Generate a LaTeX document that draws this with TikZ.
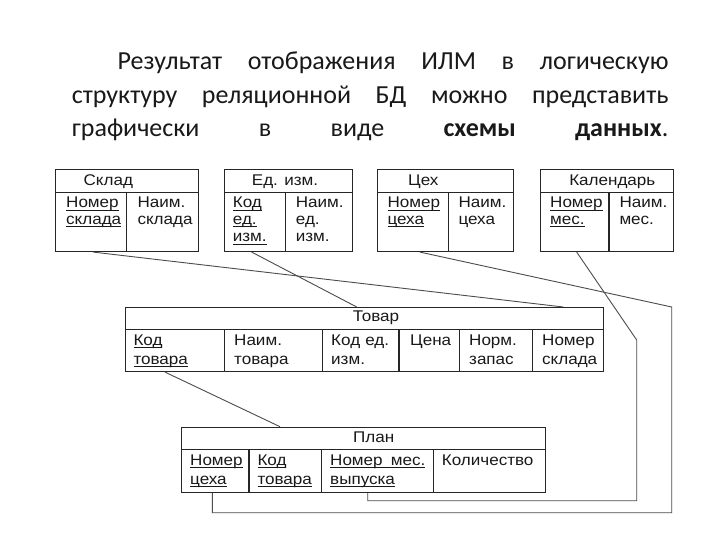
\documentclass[tikz,border=0pt]{standalone}
\usepackage{fontspec}
\usepackage{tikz}
\usetikzlibrary{calc}
\newfontfamily\titlefont{Carlito}
\newfontfamily\tabfont[FakeStretch=1.1]{Liberation Sans}
\newcommand{\pk}[1]{\leavevmode\setbox0=\hbox{#1}\rlap{\rule[-2.6pt]{\wd0}{0.8pt}}\box0}

\tikzset{
  tbl/.style={draw=black!85, line width=1.1pt, anchor=north west, inner sep=0pt},
  rowline/.style={draw=black!85, line width=1.1pt},
  link/.style={draw=black!70, line width=0.9pt},
  hdr/.style={anchor=base, inner sep=0pt, text=black!90, font=\tabfont\fontsize{15.5}{17}\selectfont},
  fld/.style={anchor=base west, inner sep=0pt, text width=110pt, align=left, text=black!90, font=\tabfont\fontsize{15.5}{17}\selectfont},
  fldlow/.style={fld, font=\tabfont\fontsize{15.5}{19.3}\selectfont}
}

\begin{document}
\begin{tikzpicture}[x=1pt, y=-1pt]
    \fill[white] (0,0) rectangle (720,540);
    \useasboundingbox (0,0) rectangle (720,540);

    % heading text
    \node[anchor=base west, inner sep=0pt, text=black!90,
      font=\titlefont\fontsize{26}{33.7}\selectfont] (title) at (71.7,69.5)
      {\parbox[t]{596.6pt}{\parfillskip=0pt\hspace*{45.6pt}Результат отображения ИЛМ в логическую\linebreak
       структуру реляционной БД можно представить\linebreak
       графически в виде \textbf{схемы данных}.}};

    % upper tables
    \node[tbl, minimum width=142.7pt, minimum height=81.7pt] (sklad) at (55,169.3) {};
    \draw[rowline] (55,192.3) -- (197.7,192.3);
    \draw[rowline] (126.7,192.3) -- (126.7,251);
    \node[hdr] (skladH) at (108.3,186) {Склад};
    \node[fld] (skladK) at (66,207.7) {\pk{Номер}\\\pk{склада}};
    \node[fld] (skladN) at (137.3,207.7) {Наим.\\склада};

    \node[tbl, minimum width=127.4pt, minimum height=81.7pt] (edizm) at (224.3,169.3) {};
    \draw[rowline] (224.3,192.3) -- (351.7,192.3);
    \draw[rowline] (285.7,192.3) -- (285.7,251);
    \node[hdr] (edizmH) at (285,186) {Ед. изм.};
    \node[fld] (edizmK) at (232.7,207.7) {\pk{Код}\\\pk{ед.}\\\pk{изм.}};
    \node[fld] (edizmN) at (295.7,207.7) {Наим.\\ед.\\изм.};

    \node[tbl, minimum width=135.4pt, minimum height=81.7pt] (tseh) at (377.3,169.3) {};
    \draw[rowline] (377.3,192.3) -- (512.7,192.3);
    \draw[rowline] (448.7,192.3) -- (448.7,251);
    \node[hdr] (tsehH) at (423.3,186) {Цех};
    \node[fld] (tsehK) at (387.3,207.7) {\pk{Номер}\\\pk{цеха}};
    \node[fld] (tsehN) at (458.3,207.7) {Наим.\\цеха};

    \node[tbl, minimum width=132.7pt, minimum height=81.7pt] (kalendar) at (540,169.3) {};
    \draw[rowline] (540,192.3) -- (672.7,192.3);
    \draw[rowline] (609,192.3) -- (609,251);
    \node[hdr] (kalendarH) at (612.3,186) {Календарь};
    \node[fld] (kalendarK) at (550,207.7) {\pk{Номер}\\\pk{мес.}};
    \node[fld] (kalendarN) at (619.3,207.7) {Наим.\\мес.};

    % Товар
    \node[tbl, minimum width=478.3pt, minimum height=64pt] (tovar) at (125,307) {};
    \draw[rowline] (125,329.3) -- (603.3,329.3);
    \foreach \x in {224.3,322.3,399,459.3,532.3}
      \draw[rowline] (\x,329.3) -- (\x,371);
    \node[hdr] (tovarH) at (376,321.7) {Товар};
    \node[fldlow] (tovarK) at (133.3,345) {\pk{Код}\\\pk{товара}};
    \node[fldlow] (tovarN) at (234,345) {Наим.\\товара};
    \node[fldlow] (tovarE) at (331,345) {Код ед.\\изм.};
    \node[fldlow] (tovarC) at (410,345) {Цена};
    \node[fldlow] (tovarZ) at (469,345) {Норм.\\запас};
    \node[fldlow] (tovarS) at (542,345) {Номер\\склада};

    % План
    \node[tbl, minimum width=364pt, minimum height=65pt] (plan) at (181,426.7) {};
    \draw[rowline] (181,449.3) -- (545,449.3);
    \foreach \x in {249,321.7,433.3}
      \draw[rowline] (\x,449.3) -- (\x,491.7);
    \node[hdr] (planH) at (373.7,442.3) {План};
    \node[fldlow] (planT) at (190,465) {\pk{Номер}\\\pk{цеха}};
    \node[fldlow] (planK) at (257.3,465) {\pk{Код}\\\pk{товара}};
    \node[fldlow] (planM) at (330,465) {\pk{Номер\hspace{3pt} мес.}\\\pk{выпуска}};
    \node[fldlow] (planQ) at (441.7,465) {Количество};

    % links
    \draw[link] ($(sklad.south west)+(38.3,0)$) -- ($(tovar.north west)+(438.3,0)$);
    \draw[link] ($(edizm.south west)+(27.4,0)$) -- ($(tovar.north west)+(231.7,0)$);
    \draw[link] ($(tseh.south west)+(42.7,0)$) -- (671.7,307) -- (671.7,512.7)
      -| ($(plan.south west)+(31.3,0)$);
    \draw[link] ($(kalendar.south west)+(36.7,0)$) -- (636.7,340) -- (636.7,500.7)
      -| ($(plan.south west)+(186.7,0)$);
    \draw[link] ($(tovar.south west)+(40,0)$) -- ($(plan.north west)+(99,0)$);
\end{tikzpicture}
\end{document}
